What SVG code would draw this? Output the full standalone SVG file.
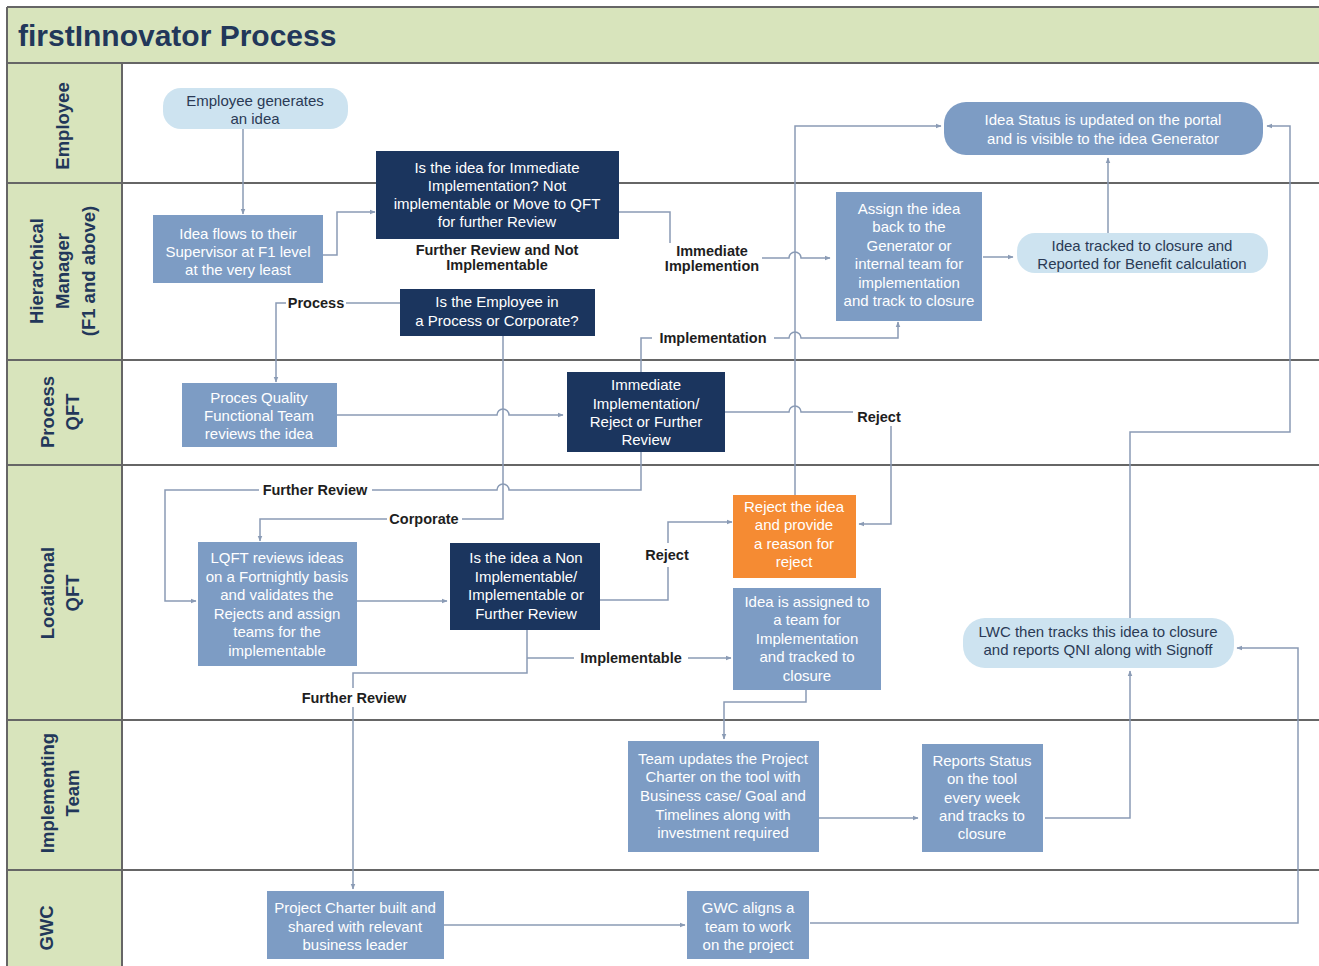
<svg xmlns="http://www.w3.org/2000/svg" width="1319" height="966" viewBox="0 0 1319 966">
<defs>
<marker id="ah" viewBox="0 0 10 10" refX="9" refY="5" markerWidth="6" markerHeight="6" orient="auto" markerUnits="userSpaceOnUse">
<path d="M0,1 L10,5 L0,9 z" fill="#8a9bb5"/>
</marker>
<style>
.lane{fill:#d8e4bc}
.sep{stroke:#666;stroke-width:2;fill:none}
.lt{font-family:"Liberation Sans",Arial,sans-serif;font-weight:bold;font-size:18.5px;fill:#22375a;text-anchor:middle}
.navy{fill:#1b355e}
.med{fill:#7d9cc4}
.pill{fill:#cde3f0}
.org{fill:#f58b33}
.tw{font-family:"Liberation Sans",Arial,sans-serif;font-size:15px;fill:#fff;text-anchor:middle}
.td{font-family:"Liberation Sans",Arial,sans-serif;font-size:15px;fill:#2a3a55;text-anchor:middle}
.lbl{font-family:"Liberation Sans",Arial,sans-serif;font-size:14.5px;font-weight:bold;fill:#1e1e1e;text-anchor:middle}
.c{stroke:#8a9bb5;stroke-width:1.5;fill:none}
.ca{stroke:#8a9bb5;stroke-width:1.5;fill:none;marker-end:url(#ah)}
</style>
</defs>
<rect x="0" y="0" width="1319" height="966" fill="#fff"/>
<g id="frame">
<rect x="7" y="7" width="1312" height="56" class="lane"/>
<rect x="7" y="63" width="115" height="903" class="lane"/>
<text x="18" y="46" font-family="'Liberation Sans',Arial,sans-serif" font-size="30" font-weight="bold" fill="#22375a">firstInnovator Process</text>
<path class="sep" d="M7 7 H1319 M7 7 V966 M7 63 H1319 M122 63 V966 M7 183 H1319 M7 360 H1319 M7 465 H1319 M7 720 H1319 M7 870 H1319"/>
<g transform="translate(63,126) rotate(-90)"><text class="lt" x="0" y="6">Employee</text></g>
<g transform="translate(63,271) rotate(-90)"><text class="lt" x="0" y="-20">Hierarchical</text><text class="lt" x="0" y="6">Manager</text><text class="lt" x="0" y="32">(F1 and above)</text></g>
<g transform="translate(60,412) rotate(-90)"><text class="lt" x="0" y="-6">Process</text><text class="lt" x="0" y="19">QFT</text></g>
<g transform="translate(60,593) rotate(-90)"><text class="lt" x="0" y="-6">Locational</text><text class="lt" x="0" y="19">QFT</text></g>
<g transform="translate(60,793) rotate(-90)"><text class="lt" x="0" y="-6">Implementing</text><text class="lt" x="0" y="19">Team</text></g>
<g transform="translate(47,928) rotate(-90)"><text class="lt" x="0" y="6">GWC</text></g>
</g>
<g id="connectors">
<path class="ca" d="M243 128 V214"/>
<path class="ca" d="M323 255 H337 V212 H375"/>
<path class="c" d="M619 212 H670 V243"/>
<path class="ca" d="M762 258 H789 A6 6 0 0 1 801 258 H830"/>
<path class="ca" d="M983 257 H1013"/>
<path class="ca" d="M1108 233 V158"/>
<path class="ca" d="M795 495 V126 H941"/>
<path class="ca" d="M1130 618 V432 H1290 V126 H1267"/>
<path class="c" d="M641 372 V338 H652"/>
<path class="ca" d="M774 338 H789 A6 6 0 0 1 801 338 H898 V322"/>
<path class="ca" d="M337 415 H497 A6 6 0 0 1 509 415 H563"/>
<path class="c" d="M400 303 H346"/>
<path class="ca" d="M286 303 H276 V382"/>
<path class="c" d="M503 336 V519 H462"/>
<path class="ca" d="M387 519 H260 V541"/>
<path class="c" d="M641 452 V490 H509 A6 6 0 0 0 497 490 H372"/>
<path class="ca" d="M259 490 H165 V601 H196"/>
<path class="ca" d="M357 601 H447"/>
<path class="c" d="M600 600 H668 V567"/>
<path class="ca" d="M668 543 V522 H732"/>
<path class="c" d="M527 630 V673 H353 V688"/>
<path class="c" d="M527 658 H574"/>
<path class="ca" d="M688 658 H731"/>
<path class="ca" d="M353 707 V889"/>
<path class="ca" d="M806 690 V702 H724 V739"/>
<path class="ca" d="M819 818 H918"/>
<path class="ca" d="M1045 818 H1130 V671"/>
<path class="ca" d="M444 925 H685"/>
<path class="ca" d="M810 923 H1298 V648 H1237"/>
<path class="c" d="M725 412 H789 A6 6 0 0 1 801 412 H853"/>
<path class="ca" d="M891 426 V524 H859"/>
<text class="lbl" x="497" y="255">Further Review and Not</text>
<text class="lbl" x="497" y="270">Implementable</text>
<text class="lbl" x="712" y="256">Immediate</text>
<text class="lbl" x="712" y="271">Implemention</text>
<text class="lbl" x="713" y="343">Implementation</text>
<text class="lbl" x="316" y="308">Process</text>
<text class="lbl" x="424" y="524">Corporate</text>
<text class="lbl" x="315" y="495">Further Review</text>
<text class="lbl" x="667" y="560">Reject</text>
<text class="lbl" x="631" y="663">Implementable</text>
<text class="lbl" x="354" y="703">Further Review</text>
<text class="lbl" x="879" y="422">Reject</text>
</g>
<g id="n-employee-generates">
<rect class="pill" x="163" y="88" width="185" height="41" rx="18"/>
<text class="td" font-size="17.5" x="255" y="106">Employee generates</text>
<text class="td" font-size="17.5" x="255" y="124">an idea</text>
</g>
<g id="n-idea-flows">
<rect class="med" x="153" y="215" width="170" height="68"/>
<text class="tw" font-size="18" x="238" y="239">Idea flows to their</text>
<text class="tw" font-size="18" x="238" y="257">Supervisor at F1 level</text>
<text class="tw" font-size="18" x="238" y="275">at the very least</text>
</g>
<g id="n-immediate-q">
<rect class="navy" x="376" y="151" width="243" height="88"/>
<text class="tw" x="497" y="173">Is the idea for Immediate</text>
<text class="tw" x="497" y="191">Implementation? Not</text>
<text class="tw" x="497" y="209">implementable or Move to QFT</text>
<text class="tw" x="497" y="227">for further Review</text>
</g>
<g id="n-employee-type">
<rect class="navy" x="400" y="289" width="195" height="47"/>
<text class="tw" x="497" y="307">Is the Employee in</text>
<text class="tw" x="497" y="326">a Process or Corporate?</text>
</g>
<g id="n-proces-quality">
<rect class="med" x="182" y="383" width="155" height="64"/>
<text class="tw" font-size="18" x="259" y="403">Proces Quality</text>
<text class="tw" font-size="18" x="259" y="421">Functional Team</text>
<text class="tw" font-size="18" x="259" y="439">reviews the idea</text>
</g>
<g id="n-immediate-reject">
<rect class="navy" x="567" y="372" width="158" height="80"/>
<text class="tw" x="646" y="390">Immediate</text>
<text class="tw" x="646" y="409">Implementation/</text>
<text class="tw" x="646" y="427">Reject or Further</text>
<text class="tw" x="646" y="445">Review</text>
</g>
<g id="n-assign">
<rect class="med" x="836" y="192" width="146" height="129"/>
<text class="tw" x="909" y="214">Assign the idea</text>
<text class="tw" x="909" y="232">back to the</text>
<text class="tw" x="909" y="251">Generator or</text>
<text class="tw" x="909" y="269">internal team for</text>
<text class="tw" x="909" y="288">implementation</text>
<text class="tw" x="909" y="306">and track to closure</text>
</g>
<g id="n-tracked">
<rect class="pill" x="1017" y="233" width="251" height="40" rx="18"/>
<text class="td" x="1142" y="251">Idea tracked to closure and</text>
<text class="td" x="1142" y="269">Reported for Benefit calculation</text>
</g>
<g id="n-status">
<rect class="med" x="944" y="102" width="319" height="53" rx="22"/>
<text class="tw" font-size="17.5" x="1103" y="125">Idea Status is updated on the portal</text>
<text class="tw" font-size="17.5" x="1103" y="144">and is visible to the idea Generator</text>
</g>
<g id="n-lwc">
<rect class="pill" x="963" y="618" width="271" height="50" rx="22"/>
<text class="td" font-size="16" x="1098" y="637">LWC then tracks this idea to closure</text>
<text class="td" font-size="16" x="1098" y="655">and reports QNI along with Signoff</text>
</g>
<g id="n-reject">
<rect class="org" x="733" y="495" width="123" height="83"/>
<text class="tw" x="794" y="512">Reject the idea</text>
<text class="tw" x="794" y="530">and provide</text>
<text class="tw" x="794" y="549">a reason for</text>
<text class="tw" x="794" y="567">reject</text>
</g>
<g id="n-lqft">
<rect class="med" x="198" y="542" width="159" height="124"/>
<text class="tw" x="277" y="563">LQFT reviews ideas</text>
<text class="tw" x="277" y="582">on a Fortnightly basis</text>
<text class="tw" x="277" y="600">and validates the</text>
<text class="tw" x="277" y="619">Rejects and assign</text>
<text class="tw" x="277" y="637">teams for the</text>
<text class="tw" x="277" y="656">implementable</text>
</g>
<g id="n-non-impl">
<rect class="navy" x="450" y="543" width="150" height="87"/>
<text class="tw" x="526" y="563">Is the idea a Non</text>
<text class="tw" x="526" y="582">Implementable/</text>
<text class="tw" x="526" y="600">Implementable or</text>
<text class="tw" x="526" y="619">Further Review</text>
</g>
<g id="n-assigned">
<rect class="med" x="733" y="588" width="148" height="102"/>
<text class="tw" x="807" y="607">Idea is assigned to</text>
<text class="tw" x="807" y="625">a team for</text>
<text class="tw" x="807" y="644">Implementation</text>
<text class="tw" x="807" y="662">and tracked to</text>
<text class="tw" x="807" y="681">closure</text>
</g>
<g id="n-team-updates">
<rect class="med" x="628" y="741" width="191" height="111"/>
<text class="tw" x="723" y="764">Team updates the Project</text>
<text class="tw" x="723" y="782">Charter on the tool with</text>
<text class="tw" x="723" y="801">Business case/ Goal and</text>
<text class="tw" x="723" y="820">Timelines along with</text>
<text class="tw" x="723" y="838">investment required</text>
</g>
<g id="n-reports">
<rect class="med" x="922" y="744" width="121" height="108"/>
<text class="tw" x="982" y="766">Reports Status</text>
<text class="tw" x="982" y="784">on the tool</text>
<text class="tw" x="982" y="803">every week</text>
<text class="tw" x="982" y="821">and tracks to</text>
<text class="tw" x="982" y="839">closure</text>
</g>
<g id="n-charter">
<rect class="med" x="267" y="891" width="177" height="68"/>
<text class="tw" x="355" y="913">Project Charter built and</text>
<text class="tw" x="355" y="932">shared with relevant</text>
<text class="tw" x="355" y="950">business leader</text>
</g>
<g id="n-gwc-aligns">
<rect class="med" x="687" y="891" width="122" height="68"/>
<text class="tw" font-size="16" x="748" y="913">GWC aligns a</text>
<text class="tw" font-size="16" x="748" y="932">team to work</text>
<text class="tw" font-size="16" x="748" y="950">on the project</text>
</g>
</svg>
